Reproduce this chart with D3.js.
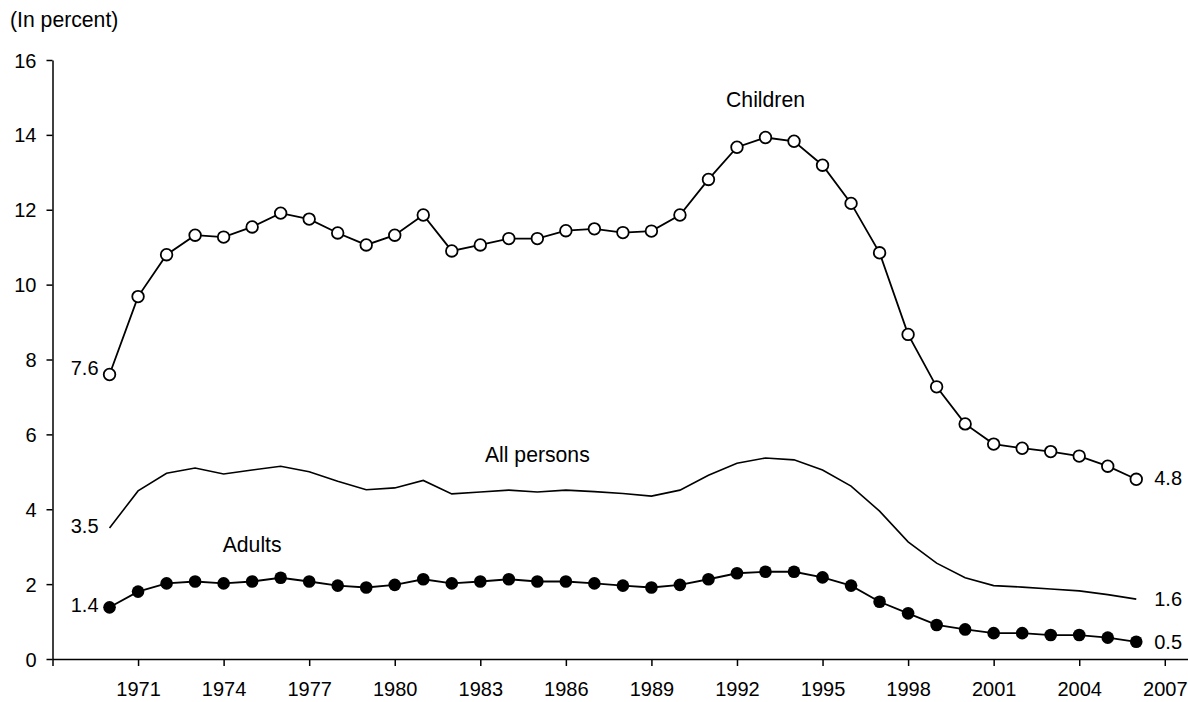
<!DOCTYPE html>
<html>
<head>
<meta charset="utf-8">
<script src="https://cdn.jsdelivr.net/npm/d3@7/dist/d3.min.js"></script>
<style>
  html, body { margin: 0; padding: 0; background: #fff; }
  svg { display: block; font-family: "Liberation Sans", Arial, sans-serif; }
</style>
</head>
<body>
<svg id="chart" width="1188" height="702"></svg>
<script>
// ---- Data ----
const years = d3.range(1970, 2007);
const children = [7.6, 9.68, 10.8, 11.32, 11.27, 11.54, 11.91, 11.75, 11.38, 11.06, 11.32, 11.86, 10.9,
  11.06, 11.23, 11.23, 11.44, 11.49, 11.39, 11.43, 11.86, 12.81, 13.67, 13.93, 13.83, 13.19, 12.17, 10.85,
  8.67, 7.27, 6.28, 5.74, 5.63, 5.54, 5.42, 5.15, 4.8];
const allPersons = [3.5, 4.49, 4.96, 5.1, 4.94, 5.05, 5.15, 5.0, 4.75, 4.52, 4.57, 4.77, 4.41,
  4.46, 4.51, 4.46, 4.51, 4.47, 4.42, 4.35, 4.51, 4.91, 5.23, 5.37, 5.32, 5.05, 4.62, 3.95,
  3.13, 2.56, 2.17, 1.96, 1.92, 1.87, 1.82, 1.72, 1.6];
const adults = [1.38, 1.8, 2.02, 2.07, 2.02, 2.07, 2.17, 2.07, 1.96, 1.91, 1.98, 2.13, 2.02,
  2.07, 2.13, 2.07, 2.07, 2.02, 1.96, 1.91, 1.98, 2.13, 2.29, 2.33, 2.33, 2.18, 1.96, 1.53,
  1.22, 0.91, 0.79, 0.69, 0.69, 0.64, 0.64, 0.57, 0.46];
const xTicks = d3.range(1968, 2008, 3);          // 1968 ... 2007
const xTickLabels = xTicks.map(y => y === 1968 ? "" : String(y));
const yTicks = [0, 2, 4, 6, 8, 10, 12, 14, 16];
const startLabels = ["7.6", "3.5", "1.4"];
const endLabels = ["4.8", "1.6", "0.5"];
const seriesNames = ["Children", "All persons", "Adults"];

// ---- Layout ----
const svg = d3.select("#chart");
const x = d3.scaleLinear().domain([1968, 2008]).range([52.5, 1193.3]);
const y = d3.scaleLinear().domain([0, 16]).range([659, 60]);
const FS = 20;     // numbers
const FSW = 21.2;  // words

// Axes
const xAxis = d3.axisBottom(x).tickValues(xTicks)
  .tickFormat((d, i) => xTickLabels[i]).tickSize(7).tickSizeOuter(0);
const gx = svg.append("g").attr("transform", `translate(0,${y(0)})`).call(xAxis);
gx.select(".domain").attr("stroke", "#000").attr("stroke-width", 1.5);
gx.selectAll(".tick line").attr("stroke", "#000").attr("stroke-width", 1.5);
gx.selectAll(".tick text").attr("font-size", FS).attr("font-family", "Liberation Sans, Arial, sans-serif")
  .attr("fill", "#000").attr("y", 0).attr("dy", 0).attr("transform", "translate(0,37)");

const yAxis = d3.axisLeft(y).tickValues(yTicks).tickFormat(d3.format("d")).tickSize(6).tickSizeOuter(0);
const gy = svg.append("g").attr("transform", `translate(${x(1968)},0)`).call(yAxis);
gy.select(".domain").attr("stroke", "#000").attr("stroke-width", 1.5);
gy.selectAll(".tick line").attr("stroke", "#000").attr("stroke-width", 1.5);
gy.selectAll(".tick text").attr("font-size", FS).attr("font-family", "Liberation Sans, Arial, sans-serif")
  .attr("fill", "#000").attr("x", -16).attr("dy", "0.35em");

// Unit label
svg.append("text").attr("x", 10).attr("y", 27).attr("font-size", FSW).text("(In percent)");

// Lines
const line = d3.line().x((d, i) => x(years[i])).y(d => y(d));
svg.append("path").datum(allPersons).attr("d", line).attr("fill", "none")
  .attr("stroke", "#000").attr("stroke-width", 1.6);
svg.append("path").datum(children).attr("d", line).attr("fill", "none")
  .attr("stroke", "#000").attr("stroke-width", 1.8);
svg.append("path").datum(adults).attr("d", line).attr("fill", "none")
  .attr("stroke", "#000").attr("stroke-width", 1.8);

// Markers
svg.append("g").selectAll("circle").data(children).join("circle")
  .attr("cx", (d, i) => x(years[i])).attr("cy", d => y(d)).attr("r", 5.8)
  .attr("fill", "#fff").attr("stroke", "#000").attr("stroke-width", 1.8);
svg.append("g").selectAll("circle").data(adults).join("circle")
  .attr("cx", (d, i) => x(years[i])).attr("cy", d => y(d)).attr("r", 6.3)
  .attr("fill", "#000");

// Start / end labels
const series = [children, allPersons, adults];
const startDy = [1, 5, 5];
const endDy = [6, 7, 7];
series.forEach((s, k) => {
  svg.append("text").attr("x", x(years[0]) - 11).attr("y", y(s[0]) + startDy[k])
    .attr("text-anchor", "end").attr("font-size", FS).text(startLabels[k]);
  svg.append("text").attr("x", x(years[years.length - 1]) + 18).attr("y", y(s[s.length - 1]) + endDy[k])
    .attr("text-anchor", "start").attr("font-size", FS).text(endLabels[k]);
});

// Series name labels
const nameX = [1993, 1985, 1975];
const nameY = [106.7, 461.7, 551.7];
seriesNames.forEach((n, k) => {
  svg.append("text").attr("x", x(nameX[k])).attr("y", nameY[k])
    .attr("text-anchor", "middle").attr("font-size", FSW).text(n);
});
</script>
</body>
</html>
